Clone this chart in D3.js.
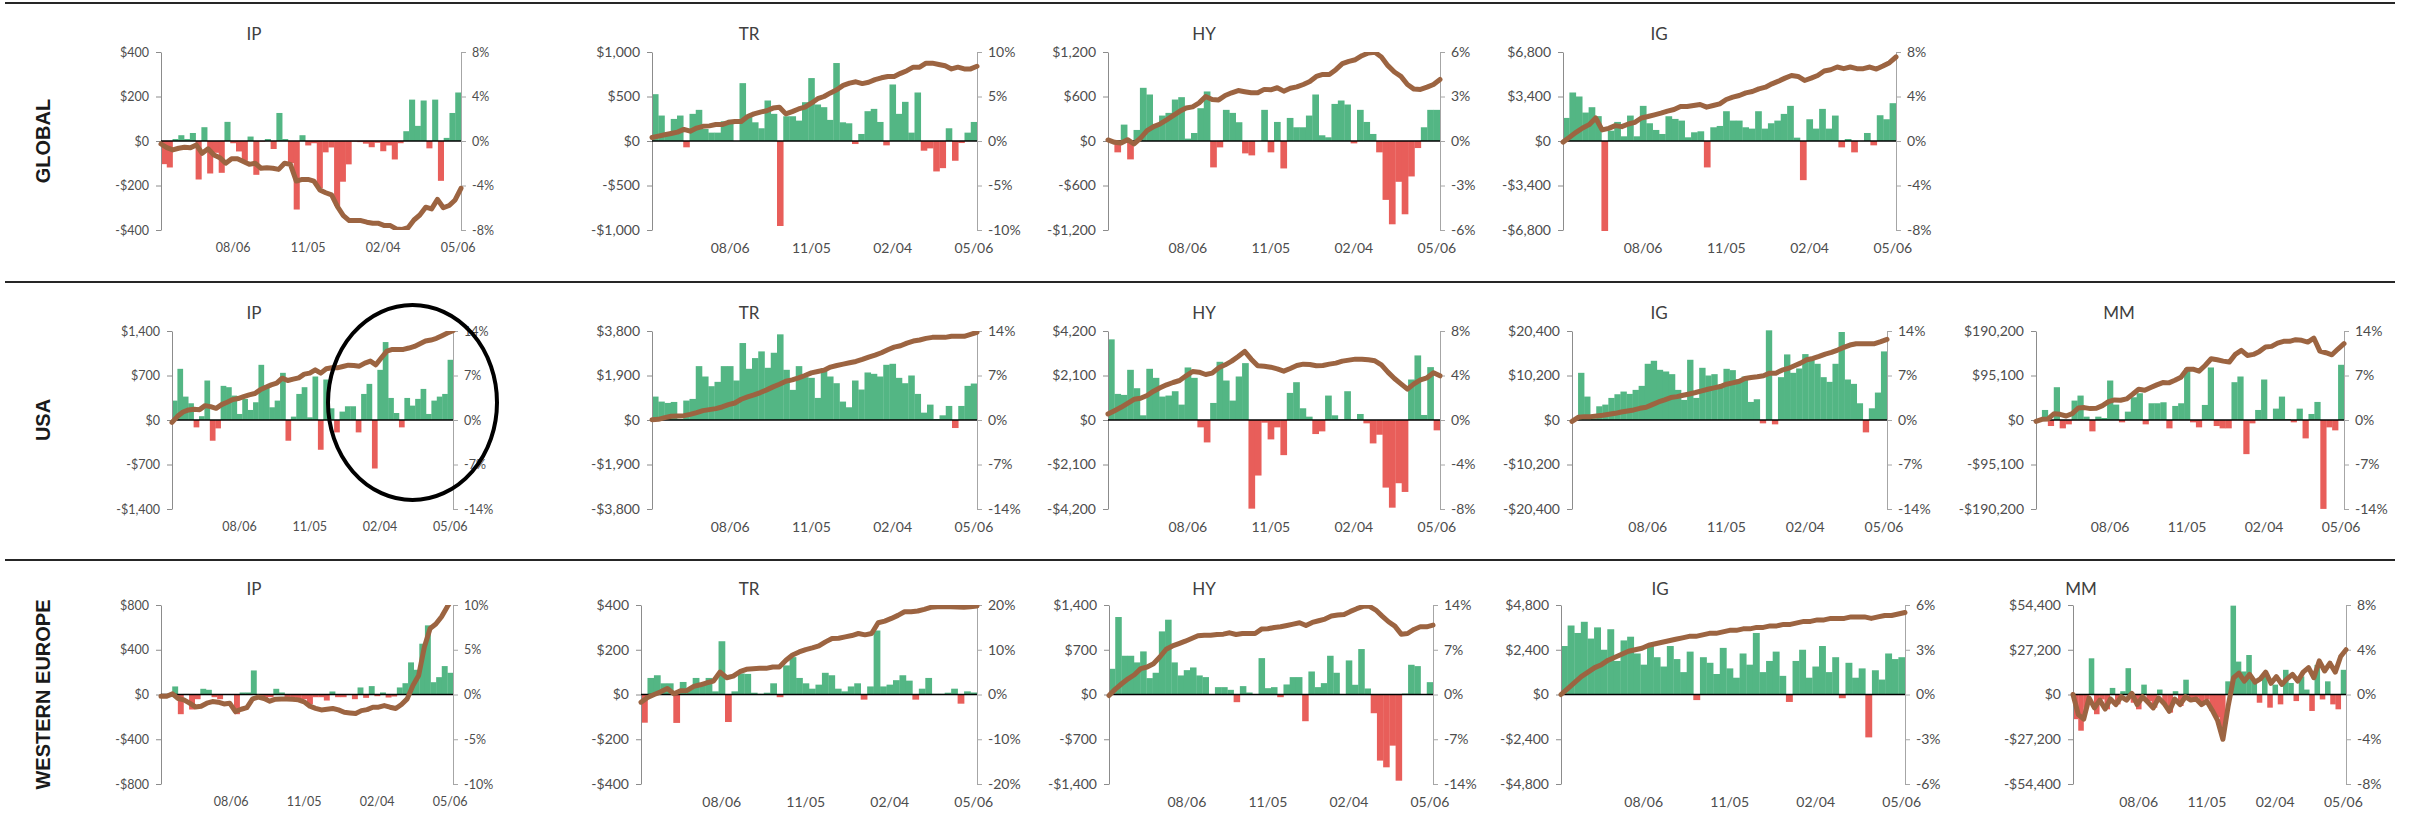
<!DOCTYPE html>
<html><head><meta charset="utf-8">
<script src="https://cdn.jsdelivr.net/npm/d3@7/dist/d3.min.js"></script>
<style>body{margin:0;background:#fff;} svg{display:block;}</style>
</head><body>
<script>
// ---------- DATA ----------
const weeks = ["05/14","05/21","05/28","06/04","06/11","06/18","06/25","07/02","07/09","07/16","07/23","07/30","08/06","08/13","08/20","08/27","09/03","09/10","09/17","09/24","10/01","10/08","10/15","10/22","10/29","11/05","11/12","11/19","11/26","12/03","12/10","12/17","12/24","12/31","01/07","01/14","01/21","01/28","02/04","02/11","02/18","02/25","03/04","03/11","03/18","03/25","04/01","04/08","04/15","04/22","04/29","05/06"];
const xTickLabels = ["08/06","11/05","02/04","05/06"];
const rowNames = ["GLOBAL","USA","WESTERN EUROPE"];
const fundTypes = ["IP","TR","HY","IG","MM"];

// axis maxima (flows in $, returns in %)
const globalFlowMax = [400,1000,1200,6800];
const globalRetMax  = [8,10,6,8];
const usaFlowMax = [1400,3800,4200,20400,190200];
const usaRetMax  = [14,14,8,14,14];
const weFlowMax = [800,400,1400,4800,54400];
const weRetMax  = [10,20,14,6,8];

// GLOBAL
const global_IP_flow = [-104,-119,9,26,9,36,-173,62,-146,-53,-143,86,-10,-47,-89,20,-152,-3,9,-36,126,9,-99,-308,26,-20,-10,-213,-51,-29,-292,-183,-105,-3,-5,-12,-28,-8,-46,-20,-83,-10,44,186,68,182,-33,186,-179,14,126,218];
const global_IP_ret = [-0.27,-0.6,-0.8,-0.65,-0.56,-0.6,-0.35,-1.1,-0.7,-1.25,-1.5,-2.0,-1.6,-1.6,-1.85,-2.1,-2.0,-2.45,-2.4,-2.45,-2.55,-2.0,-2.1,-3.6,-3.45,-3.45,-3.6,-4.4,-4.65,-4.85,-5.9,-6.7,-7.15,-7.15,-7.15,-7.3,-7.4,-7.4,-7.6,-7.6,-7.9,-7.95,-7.8,-7.1,-6.65,-5.95,-6.1,-5.25,-6.0,-5.8,-5.3,-4.25];
const global_TR_flow = [526,286,94,248,286,-71,305,350,135,94,94,222,237,0,650,286,210,143,455,305,-955,278,278,229,436,707,410,380,237,876,210,199,-34,79,335,361,214,-49,635,305,440,94,545,-109,-83,-342,-305,143,-222,-23,94,214];
const global_TR_ret = [0.4,0.55,0.7,0.85,1.0,1.3,1.1,1.45,1.65,1.7,1.85,1.85,2.1,2.2,2.2,2.75,3.05,3.25,3.4,3.7,3.8,3.05,3.3,3.6,3.8,4.25,4.75,5.0,5.4,5.75,6.25,6.5,6.65,6.45,6.6,6.9,7.1,7.25,7.25,7.6,7.9,8.3,8.3,8.75,8.75,8.6,8.45,8.1,8.3,8.1,8.1,8.4];
const global_HY_flow = [0,-153,221,-248,149,717,627,230,343,379,559,591,32,108,442,668,-356,-86,420,379,253,-167,-194,0,420,-153,257,-370,311,185,185,343,627,77,50,500,546,492,-32,420,257,95,-153,-794,-1123,-550,-988,-478,-95,185,420,420];
const global_HY_ret = [0.07,-0.09,-0.14,0.09,-0.2,0.2,0.7,0.97,1.15,1.42,1.71,2.0,2.23,2.3,2.57,3.0,2.8,2.77,3.07,3.25,3.4,3.32,3.25,3.25,3.48,3.45,3.59,3.36,3.56,3.65,3.81,4.01,4.35,4.49,4.49,4.81,5.21,5.37,5.48,5.75,5.93,5.98,5.66,5.08,4.65,4.36,3.81,3.5,3.48,3.63,3.81,4.15];
const global_IG_flow = [1764,3706,3400,2173,2582,1900,-6876,790,1457,358,1943,358,2684,1355,844,537,1892,1687,1559,281,665,741,-2019,1048,1150,2275,1559,1559,1048,946,2275,946,1355,1559,2070,2684,256,-2991,1662,946,2454,946,1943,-486,153,-869,0,613,-332,1968,1662,2889];
const global_IG_ret = [-0.1,0.33,0.78,1.17,1.47,2.07,1.0,1.14,1.38,1.29,1.53,1.68,2.07,2.2,2.35,2.5,2.68,2.83,3.1,3.1,3.19,3.28,3.04,3.19,3.34,3.73,3.94,4.09,4.33,4.45,4.69,4.84,5.14,5.38,5.65,5.89,5.8,5.44,5.65,5.89,6.29,6.41,6.65,6.5,6.65,6.5,6.5,6.65,6.47,6.74,7.04,7.55];

// USA
const usa_IP_flow = [305,805,368,263,-116,60,621,-326,-132,537,516,384,95,332,158,279,868,542,200,305,742,-326,53,410,516,42,684,-468,637,184,-195,132,216,216,-195,410,568,-763,789,1226,347,110,-116,347,226,332,489,95,305,368,410,947];
const usa_IP_ret = [-0.37,0.58,1.26,1.58,1.68,1.63,2.26,2.1,1.84,2.42,2.79,3.21,3.37,3.68,3.95,4.16,4.74,5.16,5.53,5.79,6.58,6.21,6.42,6.63,7.21,7.37,7.89,7.37,8.05,8.21,8.21,8.42,8.63,8.58,8.47,8.95,9.26,8.68,9.79,10.84,11.1,11.1,11.1,11.32,11.58,12.0,12.42,12.58,12.84,13.26,13.68,14.05];
const usa_TR_flow = [1000,786,729,771,50,829,900,2300,1857,1443,1629,2300,2300,1686,3286,2186,2643,2929,2229,2871,3657,2143,1286,2300,1829,1800,943,2214,1857,1571,786,543,1686,1300,2029,1971,1857,2357,2400,1800,1571,1900,1114,314,657,43,200,600,-343,600,1457,1557];
const usa_TR_ret = [0.05,0.1,0.37,0.58,0.63,0.68,0.89,1.16,1.47,1.63,1.79,2.05,2.42,2.68,3.26,3.63,3.95,4.32,4.74,5.21,5.63,6.1,6.32,6.63,7.0,7.42,7.63,7.84,8.32,8.58,8.79,9.0,9.21,9.53,9.89,10.21,10.58,11.05,11.47,11.68,12.1,12.42,12.58,12.84,13.0,13.0,13.0,13.16,13.16,13.16,13.47,13.8];
const usa_HY_flow = [3805,1232,1184,2368,1500,221,2416,1989,1105,1153,1358,726,2479,1989,-347,-1058,805,2747,1863,916,2053,2684,-4184,-2621,-126,-916,-347,-1658,1279,1784,553,158,-663,-537,1153,221,30,1358,30,284,-158,-1105,-695,-3190,-4137,-2984,-3395,1911,3047,237,2495,-489];
const usa_HY_ret = [0.54,0.84,1.14,1.5,1.86,1.95,2.2,2.59,2.89,3.16,3.37,3.55,3.97,4.36,4.3,4.09,4.21,4.69,4.96,5.29,5.71,6.17,5.47,4.87,4.84,4.75,4.6,4.39,4.63,4.9,5.02,4.99,4.87,4.9,5.02,5.11,5.29,5.38,5.47,5.47,5.41,5.32,4.96,4.3,3.73,3.25,2.77,3.25,3.61,3.79,4.24,3.97];
const usa_IG_flow = [0,10813,5368,400,3144,3528,5061,5905,6518,5982,6902,7822,12883,13574,11503,11120,10506,6902,4601,13804,5061,11963,10199,10506,7362,11733,11427,9356,9969,4141,4755,-767,20552,-997,9816,15031,10813,11810,15108,13881,12883,9816,8742,12883,20169,9279,8282,3834,-2837,2684,6288,15721];
const usa_IG_ret = [-0.21,0.42,0.53,0.53,0.63,0.74,0.89,1.05,1.26,1.42,1.58,1.84,2.0,2.42,2.84,3.16,3.53,3.68,3.89,4.1,4.32,4.58,4.84,5.05,5.26,5.63,5.84,6.05,6.53,6.68,6.79,6.95,7.37,7.37,7.84,8.11,8.53,8.95,9.47,9.68,10.0,10.37,10.63,11.0,11.42,11.79,12.0,12.0,12.0,12.0,12.32,12.68];
const usa_MM_flow = [-2000,21450,-12870,70075,-17877,-9296,41473,52200,7150,-24311,7150,4290,84375,32892,-5005,17876,48624,57204,-9296,35752,35752,37897,-17877,30032,35752,110833,-5005,-15731,32178,112263,-12870,-17877,-17877,80800,92955,-72935,-7150,21450,86520,2000,24311,50054,2000,-5005,24311,-39328,12870,38612,-190000,-15731,-22166,117983];
const usa_MM_ret = [-0.21,0.1,0.16,1.0,0.89,0.63,1.0,1.89,1.95,1.79,1.84,2.26,2.89,3.16,3.1,3.32,4.05,4.84,4.68,5.11,5.53,5.89,5.84,6.26,6.74,8.0,8.0,7.68,8.58,9.63,9.47,9.26,9.11,10.32,10.95,10.16,10.32,10.79,11.47,11.58,12.1,12.37,12.37,12.63,12.53,12.26,12.89,10.84,10.58,10.26,11.16,12.0];

// WESTERN EUROPE
const we_IP_flow = [-10,-10,72,-176,5,-134,-42,51,42,-24,-42,3,3,-176,18,18,215,-18,-42,-24,51,18,-24,-24,-42,-42,-87,-24,-24,-54,27,-24,-24,3,-42,63,-30,75,-15,18,-27,-18,63,101,287,221,454,618,110,155,254,194];
const we_IP_ret = [-0.19,-0.19,0.07,-0.45,-0.6,-0.97,-1.39,-1.31,-0.97,-0.79,-0.86,-1.05,-0.97,-1.91,-1.65,-1.46,-0.49,-0.3,-0.45,-0.75,-0.52,-0.49,-0.49,-0.52,-0.6,-0.82,-1.31,-1.54,-1.72,-1.65,-1.57,-1.72,-1.99,-2.06,-2.13,-1.8,-1.69,-1.42,-1.42,-1.24,-1.42,-1.57,-1.12,-0.49,1.01,2.13,5.32,7.38,7.87,8.69,9.81,10.8];
const we_TR_flow = [-126,74,86,50,50,-127,56,21,74,42,74,14,238,-123,14,94,92,8,3,8,50,-12,130,167,74,50,26,44,97,86,26,14,36,50,-23,36,286,36,44,64,86,62,-23,26,74,3,3,8,26,-41,14,9];
const we_TR_ret = [-1.72,-0.67,0.0,0.6,1.35,0.15,0.82,0.9,1.8,2.17,2.62,3.0,5.02,3.75,4.12,5.09,5.62,5.77,5.84,5.84,6.14,6.14,7.64,8.84,9.51,10.04,10.41,10.86,11.76,12.51,12.58,12.88,13.18,13.63,13.33,13.63,16.03,16.4,17.0,17.68,18.5,18.5,18.65,19.03,19.48,19.63,19.63,19.63,19.55,19.48,19.63,19.78];
const we_HY_flow = [402,1212,606,606,502,674,256,340,987,1170,502,298,381,423,298,272,5,115,115,73,-120,131,31,8,569,99,115,-42,157,272,272,-418,360,115,178,606,340,5,533,152,711,94,-293,-1034,-1139,-800,-1348,15,465,444,5,193];
const we_HY_ret = [-0.16,0.84,1.68,2.46,3.09,4.04,4.3,4.82,5.87,7.08,7.6,7.97,8.34,8.76,9.18,9.28,9.28,9.39,9.44,9.65,9.39,9.54,9.54,9.54,10.23,10.28,10.49,10.59,10.8,11.01,11.22,10.8,11.27,11.54,11.8,12.27,12.43,12.53,13.0,13.42,13.79,13.79,13.21,12.27,11.38,10.7,9.44,9.54,10.17,10.59,10.59,10.85];
const we_IG_flow = [2600,3700,3300,3900,3000,3600,2400,3500,1800,2900,3100,2200,1600,2700,2000,1500,2600,1900,1200,2300,-300,2000,1700,1100,2500,1400,900,2200,1600,3300,1200,1800,2300,1000,-400,1800,2400,900,1500,2600,1200,2000,-200,1700,900,1400,-2300,1300,800,2200,1900,2000];
const we_IG_ret = [0,0.4,0.8,1.2,1.5,1.8,2.0,2.3,2.5,2.7,2.9,3.0,3.1,3.3,3.4,3.5,3.6,3.7,3.8,3.9,3.9,4.0,4.1,4.1,4.2,4.3,4.3,4.4,4.4,4.5,4.5,4.6,4.6,4.7,4.7,4.8,4.9,4.9,5.0,5.0,5.1,5.1,5.1,5.2,5.2,5.2,5.1,5.2,5.3,5.3,5.4,5.5];
const we_MM_flow = [-15000,-22000,-8000,22000,-12000,-3000,-9000,4000,-6000,2000,16000,-5000,-9000,6000,-4000,-8000,3000,-6000,-11000,2000,-7000,9000,-4000,-2000,-6000,-3000,-10000,-14000,-25000,8000,54000,20000,14000,24000,9000,-5000,12000,-8000,6000,-6000,15000,7000,-4000,11000,3000,-10000,18000,-3000,8000,-6000,-9000,15000];
const we_MM_ret = [0,-1.8,-2.2,-0.3,-1.2,-0.5,-1.3,-0.4,-0.9,-0.2,-0.5,0.1,-0.9,-0.2,-0.7,-1.2,-0.3,-0.8,-1.5,-0.4,-0.9,-0.2,-0.5,-0.4,-0.9,-0.6,-1.4,-2.3,-4.0,-1.0,1.5,1.9,1.2,1.8,1.1,1.4,2.0,1.0,1.6,0.9,1.4,1.8,1.2,2.0,2.4,1.5,3.0,2.1,2.8,2.0,3.4,4.0];

// ---------- LAYOUT ----------
const W = 2417, H = 814;
const COL_POS = "#53b684", COL_NEG = "#e85e5a", COL_LINE = "#9c6441";
const rows = [
  { name: rowNames[0], top: 52, bottom: 230, titleY: 33, sepY: 3,
    panels: [
      { t: fundTypes[0], flow: global_IP_flow, ret: global_IP_ret, fmax: globalFlowMax[0], pmax: globalRetMax[0], l: 161, r: 461, tx: 254, fs: 12.5 },
      { t: fundTypes[1], flow: global_TR_flow, ret: global_TR_ret, fmax: globalFlowMax[1], pmax: globalRetMax[1], l: 652, r: 977, tx: 749, fs: 14 },
      { t: fundTypes[2], flow: global_HY_flow, ret: global_HY_ret, fmax: globalFlowMax[2], pmax: globalRetMax[2], l: 1108, r: 1440, tx: 1204, fs: 14 },
      { t: fundTypes[3], flow: global_IG_flow, ret: global_IG_ret, fmax: globalFlowMax[3], pmax: globalRetMax[3], l: 1563, r: 1896, tx: 1659, fs: 14 }
    ]},
  { name: rowNames[1], top: 331, bottom: 509, titleY: 312, sepY: 282,
    panels: [
      { t: fundTypes[0], flow: usa_IP_flow, ret: usa_IP_ret, fmax: usaFlowMax[0], pmax: usaRetMax[0], l: 172, r: 453, tx: 254, fs: 12.5 },
      { t: fundTypes[1], flow: usa_TR_flow, ret: usa_TR_ret, fmax: usaFlowMax[1], pmax: usaRetMax[1], l: 652, r: 977, tx: 749, fs: 14 },
      { t: fundTypes[2], flow: usa_HY_flow, ret: usa_HY_ret, fmax: usaFlowMax[2], pmax: usaRetMax[2], l: 1108, r: 1440, tx: 1204, fs: 14 },
      { t: fundTypes[3], flow: usa_IG_flow, ret: usa_IG_ret, fmax: usaFlowMax[3], pmax: usaRetMax[3], l: 1572, r: 1887, tx: 1659, fs: 14 },
      { t: fundTypes[4], flow: usa_MM_flow, ret: usa_MM_ret, fmax: usaFlowMax[4], pmax: usaRetMax[4], l: 2036, r: 2344, tx: 2119, fs: 14 }
    ]},
  { name: rowNames[2], top: 605, bottom: 784, titleY: 588, sepY: 560,
    panels: [
      { t: fundTypes[0], flow: we_IP_flow, ret: we_IP_ret, fmax: weFlowMax[0], pmax: weRetMax[0], l: 161, r: 453, tx: 254, fs: 12.5 },
      { t: fundTypes[1], flow: we_TR_flow, ret: we_TR_ret, fmax: weFlowMax[1], pmax: weRetMax[1], l: 641, r: 977, tx: 749, fs: 14 },
      { t: fundTypes[2], flow: we_HY_flow, ret: we_HY_ret, fmax: weFlowMax[2], pmax: weRetMax[2], l: 1109, r: 1433, tx: 1204, fs: 14 },
      { t: fundTypes[3], flow: we_IG_flow, ret: we_IG_ret, fmax: weFlowMax[3], pmax: weRetMax[3], l: 1561, r: 1905, tx: 1660, fs: 14 },
      { t: fundTypes[4], flow: we_MM_flow, ret: we_MM_ret, fmax: weFlowMax[4], pmax: weRetMax[4], l: 2073, r: 2346, tx: 2081, fs: 14 }
    ]}
];

const svg = d3.select("body").append("svg").attr("width", W).attr("height", H)
  .style("font-family", "Lato, 'Open Sans', sans-serif");

const fmtMoney = v => (v < 0 ? "-" : "") + "$" + d3.format(",")(Math.abs(v));
const fmtPct = v => v + "%";
const TXT = "#4d4d4d";

let clipId = 0;
rows.forEach(row => {
  svg.append("line").attr("x1", 5).attr("x2", 2395).attr("y1", row.sepY).attr("y2", row.sepY)
    .attr("stroke", "#262626").attr("stroke-width", 2);
  const cy = (row.top + row.bottom) / 2;
  svg.append("text").attr("transform", `translate(43,${cy}) rotate(-90)`)
    .attr("text-anchor", "middle").attr("dominant-baseline", "central")
    .style("font-family", "'Liberation Sans', Arial, sans-serif")
    .style("font-size", "20px").style("font-weight", "bold").attr("fill", "#1a1a1a").text(row.name);

  row.panels.forEach(p => {
    const g = svg.append("g");
    const x = d3.scaleBand().domain(weeks).range([p.l, p.r]).padding(0);
    const xl = d3.scalePoint().domain(weeks).range([p.l, p.r]).padding(0);
    const y = d3.scaleLinear().domain([-p.fmax, p.fmax]).range([row.bottom, row.top]);
    const y2 = d3.scaleLinear().domain([-p.pmax, p.pmax]).range([row.bottom, row.top]);
    const data = weeks.map((w, i) => ({ w, f: p.flow[i], r: p.ret[i] }));

    g.append("g").selectAll("rect").data(data).join("rect")
      .attr("x", d => x(d.w)).attr("width", x.bandwidth() + 0.3)
      .attr("y", d => y(Math.max(0, d.f)))
      .attr("height", d => Math.abs(y(d.f) - y(0)))
      .attr("fill", d => d.f >= 0 ? COL_POS : COL_NEG);

    const tv = [-p.fmax, -p.fmax / 2, 0, p.fmax / 2, p.fmax];
    const tv2 = [-p.pmax, -p.pmax / 2, 0, p.pmax / 2, p.pmax];
    const ax = g.append("g").attr("transform", `translate(${p.l},0)`)
      .call(d3.axisLeft(y).tickValues(tv).tickFormat(fmtMoney).tickSize(5).tickSizeOuter(0).tickPadding(7));
    ax.selectAll("path,line").attr("stroke", "#8c8c8c");
    ax.selectAll("text").attr("fill", TXT).style("font-size", p.fs + "px").style("font-family", "Lato, sans-serif");
    const ax2 = g.append("g").attr("transform", `translate(${p.r},0)`)
      .call(d3.axisRight(y2).tickValues(tv2).tickFormat(fmtPct).tickSize(5).tickSizeOuter(0).tickPadding(6));
    ax2.selectAll("path,line").attr("stroke", "#a6a6a6");
    ax2.selectAll("text").attr("fill", TXT).style("font-size", p.fs + "px").style("font-family", "Lato, sans-serif");
    const axb = g.append("g").attr("transform", `translate(0,${row.bottom})`)
      .call(d3.axisBottom(x).tickValues(xTickLabels).tickSize(0).tickPadding(13));
    axb.select(".domain").remove();
    axb.selectAll("text").attr("fill", TXT).style("font-size", p.fs + "px").style("font-family", "Lato, sans-serif");

    g.append("line").attr("x1", p.l).attr("x2", p.r).attr("y1", y(0)).attr("y2", y(0))
      .attr("stroke", "#000").attr("stroke-width", 1.5);

    const id = "clip" + (clipId++);
    svg.append("clipPath").attr("id", id).append("rect")
      .attr("x", p.l - 4).attr("y", row.top).attr("width", p.r - p.l + 8).attr("height", row.bottom - row.top);
    g.append("path").datum(data).attr("clip-path", `url(#${id})`)
      .attr("fill", "none").attr("stroke", COL_LINE).attr("stroke-width", 5)
      .attr("stroke-linejoin", "round").attr("stroke-linecap", "round")
      .attr("d", d3.line().x(d => xl(d.w)).y(d => y2(d.r)));

    g.append("text").attr("x", p.tx).attr("y", row.titleY)
      .attr("text-anchor", "middle").attr("dominant-baseline", "central")
      .attr("fill", "#404040").style("font-size", "17px").text(p.t);
  });
});

svg.append("ellipse").attr("cx", 412.5).attr("cy", 402.5).attr("rx", 84.5).attr("ry", 97.5)
  .attr("fill", "none").attr("stroke", "#000").attr("stroke-width", 4);
</script>
</body></html>
